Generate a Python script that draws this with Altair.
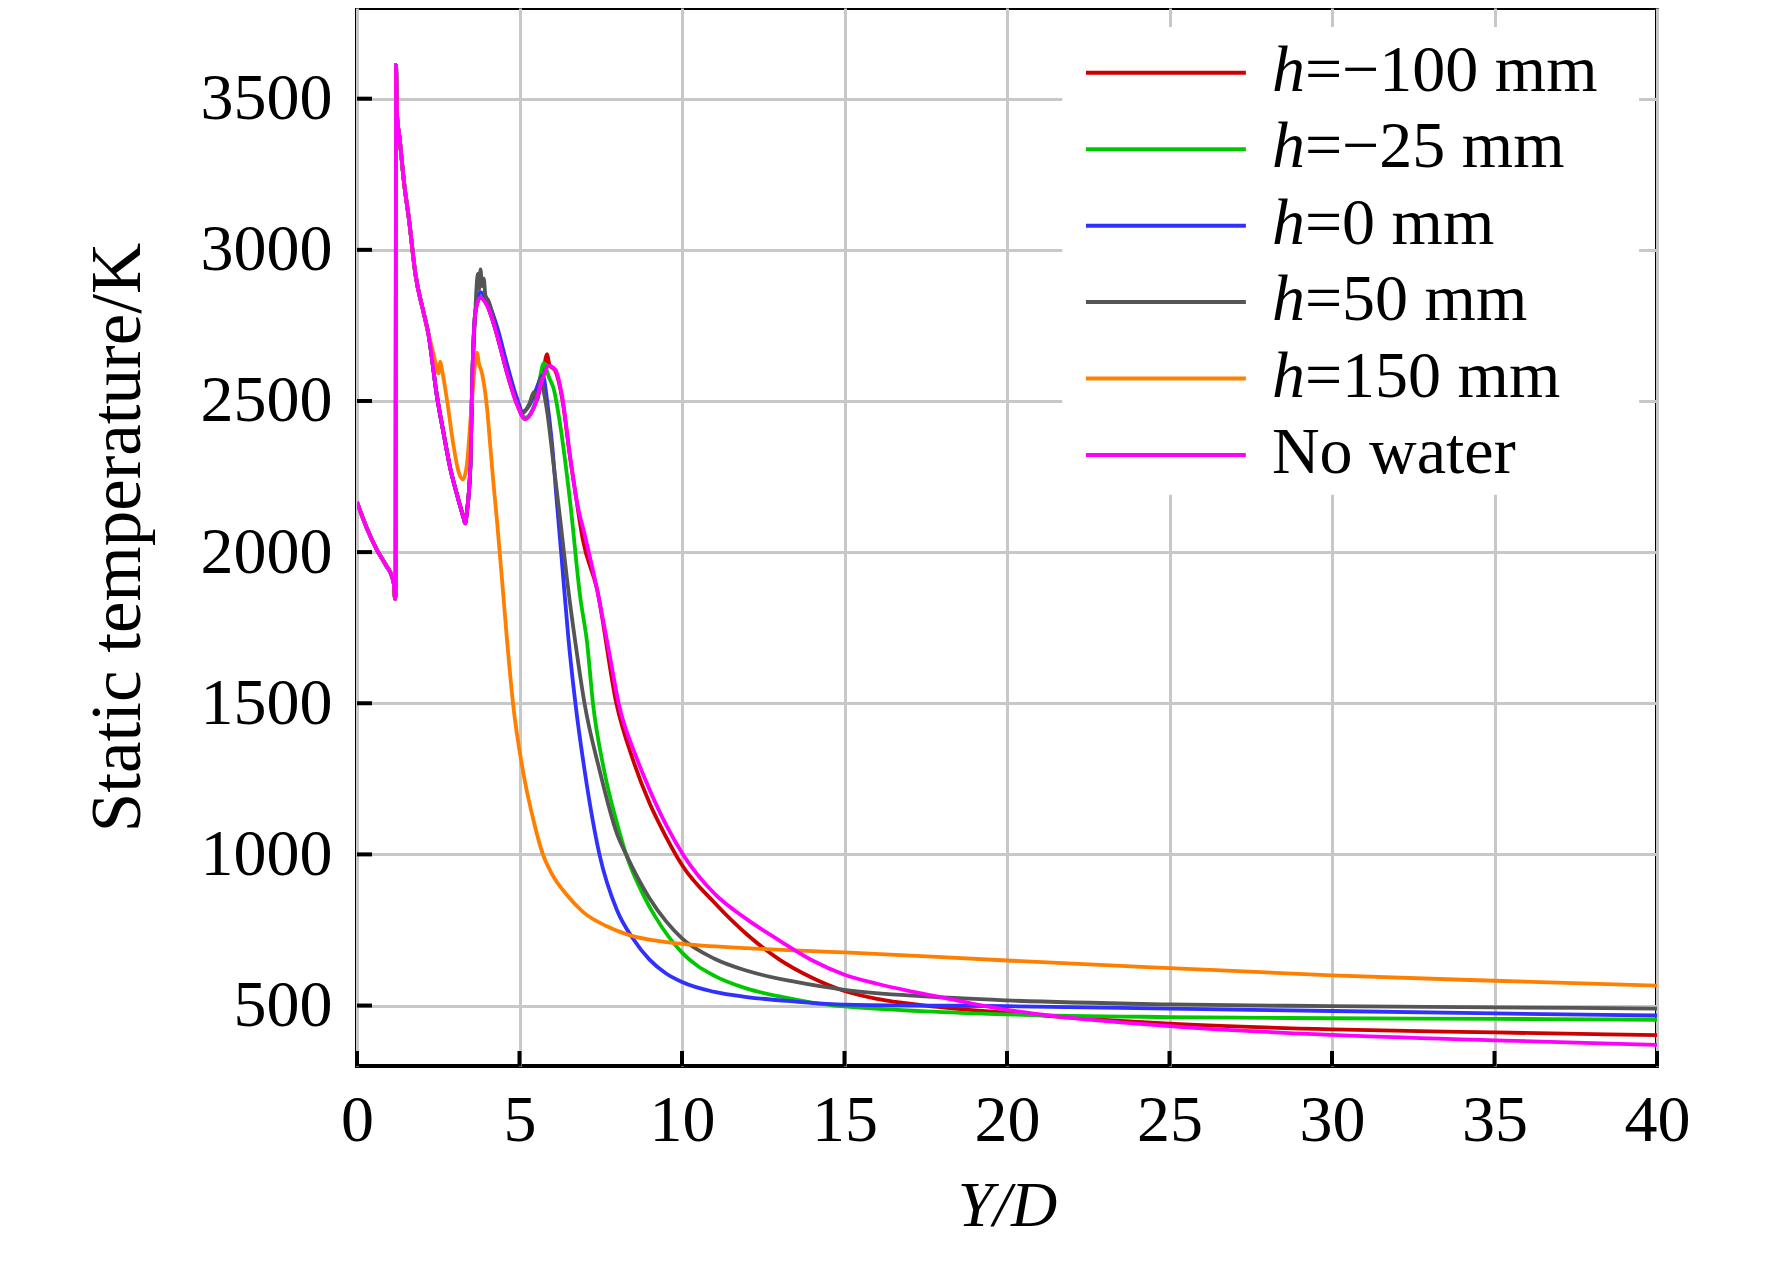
import altair as alt
import pandas as pd

# ---- values: Y/D vs static temperature (K) ----
# all six runs share the inlet drop and the shock spike up to Y/D = 2.2
HEAD_X = [0, 0.3, 0.6, 0.9, 1.08, 1.14, 1.17, 1.19, 1.2, 1.23, 1.31, 1.45, 1.6, 1.8, 2.05, 2.2]
HEAD_T = [2165, 2080, 2010, 1955, 1918, 1890, 1845, 1870, 3610, 3450, 3370, 3220, 3100, 2918, 2792, 2720]

# every run except h=150 mm follows this up to the second rise
MID_X = [2.46, 2.67, 2.87, 3.08, 3.28, 3.33, 3.38, 3.49, 3.54, 3.64]
MID_T = [2516, 2390, 2277, 2189, 2113, 2095, 2132, 2289, 2541, 2792]

RED_X = [3.79, 4.0, 4.31, 4.62, 4.92, 5.18, 5.44, 5.69, 5.85, 5.92, 6.1, 6.31, 6.56, 6.77, 6.95,
         7.38, 7.98, 8.5, 9.0, 9.5, 10, 11, 12, 13, 14, 15, 16, 17.5, 20, 25, 30, 35, 40]
RED_T = [2842, 2817, 2717, 2591, 2490, 2440, 2478, 2566, 2655, 2620, 2600, 2510, 2310, 2160, 2040,
         1880, 1500, 1310, 1170, 1060, 965, 840, 735, 652, 592, 548, 522, 500, 476, 440, 421, 411, 402]

GRN_X = [3.79, 4.0, 4.31, 4.62, 4.92, 5.18, 5.44, 5.6, 5.75, 5.9, 6.05, 6.26, 6.56, 6.87, 7.08,
         7.26, 7.6, 8.0, 8.28, 8.8, 9.2, 10, 11, 12, 13, 14, 15, 17.5, 20, 25, 30, 35, 40]
GRN_T = [2845, 2818, 2720, 2595, 2495, 2445, 2480, 2560, 2625, 2580, 2541, 2415, 2164, 1850, 1700,
         1500, 1280, 1103, 1000, 868, 790, 675, 598, 556, 530, 510, 497, 481, 471, 462, 458, 456, 453]

BLU_X = [3.79, 4.0, 4.31, 4.62, 4.92, 5.1, 5.3, 5.5, 5.72, 5.85, 6.0, 6.15, 6.3, 6.5, 6.72, 7.0,
         7.46, 8.0, 8.5, 9.0, 9.5, 10, 11, 12, 13.5, 15, 17.5, 20, 25, 30, 35, 40]
BLU_T = [2860, 2835, 2745, 2620, 2510, 2465, 2485, 2535, 2585, 2500, 2360, 2164, 1975, 1720, 1500, 1280,
         1000, 815, 720, 652, 607, 578, 545, 528, 513, 503, 500, 498, 490, 482, 474, 467]

GRY_X = [3.68, 3.72, 3.76, 3.8, 3.85, 3.9, 3.95, 4.05, 4.31, 4.62, 4.92, 5.1, 5.3, 5.45, 5.55, 5.65,
         5.72, 5.85, 6.05, 6.26, 6.46, 6.72, 7.0, 7.46, 8.0, 8.28, 9.0, 9.5, 10, 11, 12, 13.5, 15,
         17.5, 20, 25, 30, 35, 40]
GRY_T = [2880, 2920, 2870, 2935, 2880, 2905, 2850, 2830, 2720, 2595, 2495, 2460, 2490, 2530, 2505, 2575,
         2545, 2465, 2289, 2101, 1912, 1700, 1500, 1280, 1068, 1000, 855, 780, 722, 655, 615, 578, 552,
         530, 517, 504, 498, 494, 490]

ORG_X = [2.3, 2.41, 2.51, 2.56, 2.62, 2.77, 2.97, 3.13, 3.26, 3.38, 3.52, 3.64, 3.7, 3.74, 3.85, 4.0,
         4.1, 4.2, 4.31, 4.41, 4.5, 4.6, 4.8, 5.1, 5.46, 5.72, 6.0, 6.44, 6.95, 7.67, 8.38, 9.51, 10,
         12, 15, 20, 25, 30, 35, 40]
ORG_T = [2680, 2629, 2591, 2630, 2600, 2503, 2352, 2264, 2240, 2289, 2478, 2629, 2660, 2630, 2590, 2478,
         2352, 2226, 2101, 1975, 1860, 1730, 1500, 1280, 1100, 1000, 935, 868, 810, 763, 733, 710, 704,
         690, 676, 649, 624, 600, 582, 566]

MAG_X = [3.79, 4.0, 4.31, 4.62, 4.92, 5.18, 5.44, 5.69, 5.9, 6.1, 6.31, 6.56, 6.77, 7.0, 7.38, 7.79,
         8.05, 8.6, 9.0, 9.5, 10.03, 11, 12, 13, 14, 15, 16, 17, 18, 19, 20, 25, 30, 35, 40]
MAG_T = [2842, 2817, 2717, 2591, 2490, 2440, 2478, 2566, 2616, 2604, 2516, 2314, 2164, 2060, 1880, 1650,
         1500, 1320, 1215, 1100, 1000, 870, 785, 715, 650, 602, 572, 548, 527, 505, 486, 432, 403, 385, 370]

LEGEND_ITALIC = ["h", "h", "h", "h", "h", ""]
LEGEND_REST = ["=\u2212100 mm", "=\u221225 mm", "=0 mm", "=50 mm", "=150 mm", "No water"]
COLORS = ["#CC0000", "#00C800", "#3030FF", "#555555", "#FF8000", "#FF00FF"]

X_TICKS = list(range(0, 41, 5))
Y_TICKS = [500, 1000, 1500, 2000, 2500, 3000, 3500]

# ---- layout ----
W, H = 1300, 1058
FONT = "Liberation Serif"
PX_PER_X = W / 40.0

x_scale = alt.Scale(domain=[0, 40], nice=False, zero=False)
y_scale = alt.Scale(domain=[300, 3800], nice=False, zero=False)

x_axis = alt.Axis(values=X_TICKS, format="d", grid=True, gridColor="#C8C8C8", gridWidth=3,
                  domain=False, ticks=False, tickSize=0, labelFont=FONT, labelFontSize=66,
                  labelColor="black", labelPadding=22, labelFlush=False, labelOverlap=False,
                  title="Y/D", titleFont=FONT, titleFontSize=64, titleFontStyle="italic",
                  titleFontWeight="normal", titleColor="black", titlePadding=21)
y_axis = alt.Axis(values=Y_TICKS, format="d", grid=True, gridColor="#C8C8C8", gridWidth=3,
                  domain=False, ticks=False, tickSize=0, labelFont=FONT, labelFontSize=66,
                  labelColor="black", labelPadding=25, labelFlush=False, labelOverlap=False,
                  title="Static temperature/K", titleFont=FONT, titleFontSize=71,
                  titleFontWeight="normal", titleColor="black", titlePadding=46)


def xq(field):
    return alt.X(field, type="quantitative", scale=x_scale, axis=x_axis)


def yq(field):
    return alt.Y(field, type="quantitative", scale=y_scale, axis=y_axis)


def series(xs, ts):
    return pd.DataFrame({"yd": xs, "t": ts, "i": range(len(xs))})


runs = [
    (HEAD_X + MID_X + RED_X, HEAD_T + MID_T + RED_T),
    (HEAD_X + MID_X + GRN_X, HEAD_T + MID_T + GRN_T),
    (HEAD_X + MID_X + BLU_X, HEAD_T + MID_T + BLU_T),
    (HEAD_X + MID_X + GRY_X, HEAD_T + MID_T + GRY_T),
    (HEAD_X + ORG_X, HEAD_T + ORG_T),
    (HEAD_X + MID_X + MAG_X, HEAD_T + MID_T + MAG_T),
]

# legend box (white patch hiding the grid), placed in data units
legend_box = pd.DataFrame({"x0": [21.7], "x1": [39.45], "y0": [2190], "y1": [3737]})
row_t = [3586 - k * 253 for k in range(6)]
text_x = 28.15
h_shift = 33 / PX_PER_X
legend_df = pd.DataFrame({
    "lx0": [22.43] * 6, "lx1": [27.35] * 6, "ly": row_t, "c": COLORS,
    "it": LEGEND_ITALIC, "rest": LEGEND_REST,
    "tx": [text_x] * 6,
    "rx": [text_x + (h_shift if s else 0) for s in LEGEND_ITALIC],
})

layers = [
    alt.Chart(legend_box).mark_rect(color="white").encode(
        x=xq("x0"), x2="x1", y=yq("y0"), y2="y1",
    )
]

for (xs, ts), col in zip(runs, COLORS):
    layers.append(
        alt.Chart(series(xs, ts)).mark_line(
            color=col, strokeWidth=3.8, interpolate="monotone", clip=True
        ).encode(x=xq("yd"), y=yq("t"), order="i:Q")
    )

# inward ticks
layers.append(
    alt.Chart(pd.DataFrame({"v": Y_TICKS})).mark_rule(color="black", strokeWidth=4).encode(
        y=yq("v"), x=alt.value(0), x2=alt.value(15)
    )
)
layers.append(
    alt.Chart(pd.DataFrame({"v": X_TICKS})).mark_rule(color="black", strokeWidth=4).encode(
        x=xq("v"), y=alt.value(H), y2=alt.value(H - 15)
    )
)

# legend entries
layers.append(
    alt.Chart(legend_df).mark_rule(strokeWidth=4).encode(
        x=xq("lx0"), x2="lx1", y=yq("ly"), color=alt.Color("c:N", scale=None),
    )
)
layers.append(
    alt.Chart(legend_df).mark_text(font=FONT, fontSize=66, fontStyle="italic", align="left",
                                   baseline="alphabetic", dy=18, color="black").encode(
        x=xq("tx"), y=yq("ly"), text="it:N",
    )
)
layers.append(
    alt.Chart(legend_df).mark_text(font=FONT, fontSize=66, align="left",
                                   baseline="alphabetic", dy=18, color="black").encode(
        x=xq("rx"), y=yq("ly"), text="rest:N",
    )
)

chart = alt.layer(*layers).properties(
    width=W,
    height=H,
    padding={"left": 349, "top": 0, "right": 100, "bottom": 190},
    autosize=alt.AutoSizeParams(type="none"),
    background="white",
).configure_view(
    stroke="black",
    strokeWidth=4,
)

chart.save("out.html", embed_options={"renderer": "svg", "actions": False})
